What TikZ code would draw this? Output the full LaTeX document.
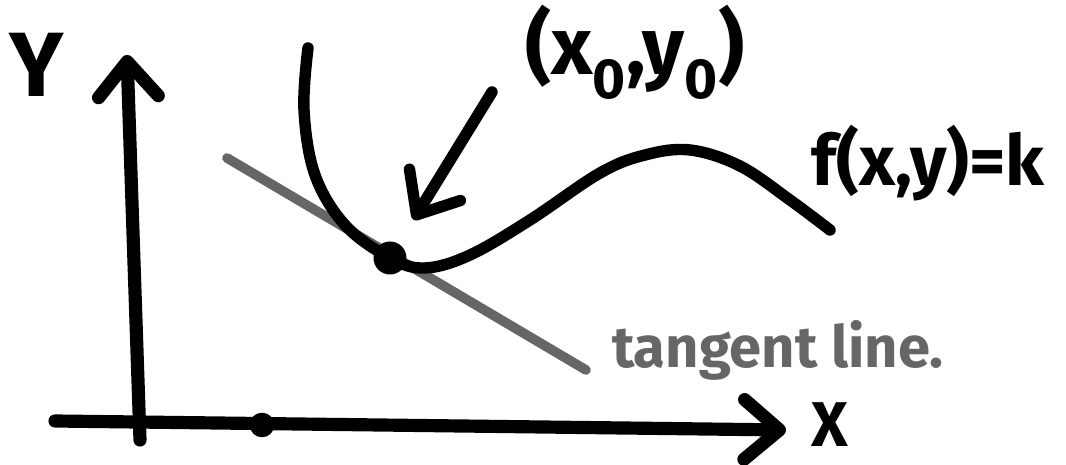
\documentclass[tikz,border=0pt]{standalone}
\usepackage{fontspec}
\setmainfont{Fira Sans}
\usetikzlibrary{arrows.meta}
\begin{document}
\begin{tikzpicture}[x=0.02cm,y=-0.02cm,line join=round,line cap=round,font=\bfseries,
	>={Straight Barb[round,length=20pt,width=34pt]},
	pen/.style={line width=7.5pt},
	grayline/.style={line width=5.5pt,black!60},
	lbl/.style={inner sep=0pt}]
	\useasboundingbox (0,0) rectangle (1066,465);
	% Trục tọa độ
	\coordinate (ybot) at (140,440); \coordinate (ytop) at (127,55);
	\coordinate (xleft) at (55,421); \coordinate (xright) at (786,430);
	\draw[pen,->] (ybot)--(ytop);
	\draw[pen,->] (xleft)--(xright);
	\node[lbl] (ylab) at (37,65) {\fontsize{52}{56}\selectfont Y};
	\node[lbl] (xlab) at (830,425) {\fontsize{36}{40}\selectfont X};
	\fill (262,425) circle (7pt);
	% Tiếp tuyến
	\coordinate (t1) at (227,158); \coordinate (t2) at (586,370);
	\draw[grayline] (t1)--(t2);
	\node[lbl,black!60] (tlab) at (778,350) {\fontsize{33}{36}\selectfont tangent line.};
	% Đường cong f(x,y)=k
	\draw[pen,line width=6.5pt,smooth,tension=0.6] plot coordinates {(308,48) (304,110) (315,175) (345,225) (390,258) (425,268) (470,255) (530,220) (600,173) (645,155) (690,150) (740,166) (790,200) (830,230)};
	\node[lbl] (flab) at (928,163) {\fontsize{40}{42}\selectfont f(x,y)=k};
	% Điểm (x0,y0)
	\node[circle,fill,inner sep=0pt,minimum size=0.66cm] (P) at (390,258) {};
	\node[lbl] (plab) at (635,52) {\fontsize{46}{48}\selectfont (x\textsubscript{0},y\textsubscript{0})};
	\coordinate (a0) at (492,92);
	\draw[pen,line width=6.5pt,->,shorten >=16pt] (a0)--(P);
\end{tikzpicture}
\end{document}
